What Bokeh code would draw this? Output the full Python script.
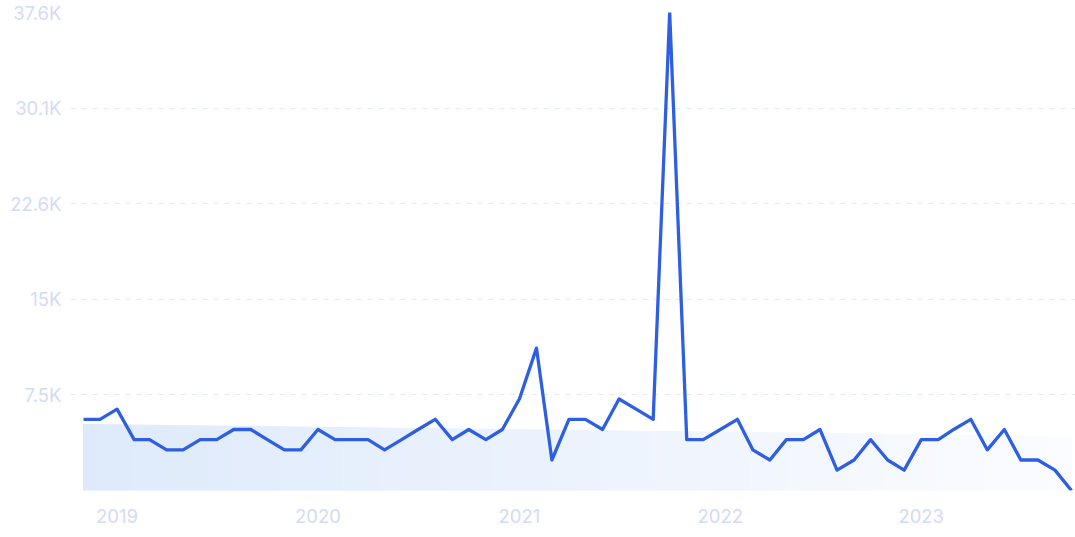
import numpy as np
import pandas as pd
from bokeh.plotting import figure
from bokeh.models import Range1d, FixedTicker
from bokeh.embed import file_html
from bokeh.resources import INLINE

# ---- data ----
months = list(pd.date_range("2018-11-01", periods=60, freq="MS"))
values = [5600, 5600, 6400, 4000, 4000, 3200, 3200, 4000, 4000, 4800,
          4800, 4000, 3200, 3200, 4800, 4000, 4000, 4000, 3200, 4000,
          4800, 5600, 4000, 4800, 4000, 4800, 7200, 11200, 2400, 5600,
          5600, 4800, 7200, 6400, 5600, 37600, 4000, 4000, 4800, 5600,
          3200, 2400, 4000, 4000, 4800, 1600, 2400, 4000, 2400, 1600,
          4000, 4000, 4800, 5600, 3200, 4800, 2400, 2400, 1600, 0]
trend_start = 5200
trend_end = 4250
y_ticks = [7520, 15040, 22560, 30080, 37600]
y_tick_labels = ["7.5K", "15K", "22.6K", "30.1K", "37.6K"]
year_labels = ["2019", "2020", "2021", "2022", "2023"]

# ---- styling ----
LINE = "#2e5fe3"
LABEL = "#d3dbf5"
GRID = "#e3e8f6"
FONT = "Inter"

def ms(t):
    return pd.Timestamp(t).value / 1e6

x_ms = [ms(t) for t in months]
day = 86400000.0
x0, x1 = x_ms[0], x_ms[-1]

p = figure(width=1075, height=535, x_axis_type="datetime",
           output_backend="svg", toolbar_location=None,
           min_border_left=70, min_border_right=0, min_border_top=12,
           min_border_bottom=45)
p.x_range = Range1d(x0 - 23.6 * day, x1 + 7.3 * day)
p.y_range = Range1d(0, y_ticks[-1])
p.outline_line_color = None
p.background_fill_color = "white"
p.border_fill_color = "white"

# gradient trend band (drawn as thin strips)
N = 80
edges = np.linspace(x0, x1, N + 1)
c0 = np.array([0xde, 0xea, 0xfb], dtype=float)
c1 = np.array([0xfb, 0xfc, 0xff], dtype=float)
xs, ys, cols = [], [], []
for i in range(N):
    a, b = edges[i], edges[i + 1]
    ta = trend_start + (trend_end - trend_start) * (a - x0) / (x1 - x0)
    tb = trend_start + (trend_end - trend_start) * (b - x0) / (x1 - x0)
    xs.append([a, b, b, a])
    ys.append([0, 0, tb, ta])
    f = (i + 0.5) / N
    c = c0 + (c1 - c0) * f
    cols.append("#%02x%02x%02x" % tuple(int(round(v)) for v in c))
p.patches(xs, ys, fill_color=cols, line_color=cols, line_width=1)

p.line(x_ms, values, line_color=LINE, line_width=3.3, line_join="round")

# axes
p.yaxis.ticker = FixedTicker(ticks=y_ticks)
p.yaxis.major_label_overrides = {t: l for t, l in zip(y_ticks, y_tick_labels)}
year_ticks = [ms(f"{y}-01-01") for y in year_labels]
p.xaxis.ticker = FixedTicker(ticks=year_ticks)
p.xaxis.major_label_overrides = {t: l for t, l in zip(year_ticks, year_labels)}

for ax in (p.xaxis[0], p.yaxis[0]):
    ax.axis_line_color = None
    ax.major_tick_line_color = None
    ax.minor_tick_line_color = None
    ax.major_label_text_color = LABEL
    ax.major_label_text_font = FONT
    ax.major_label_text_font_size = "18.5px"
p.yaxis.major_label_standoff = 3
p.xaxis.major_label_standoff = 12

p.xgrid.grid_line_color = None
p.ygrid.grid_line_color = GRID
p.ygrid.grid_line_dash = "5 6"
p.ygrid.grid_line_width = 1

open("out.html", "w").write(file_html(p, INLINE))
